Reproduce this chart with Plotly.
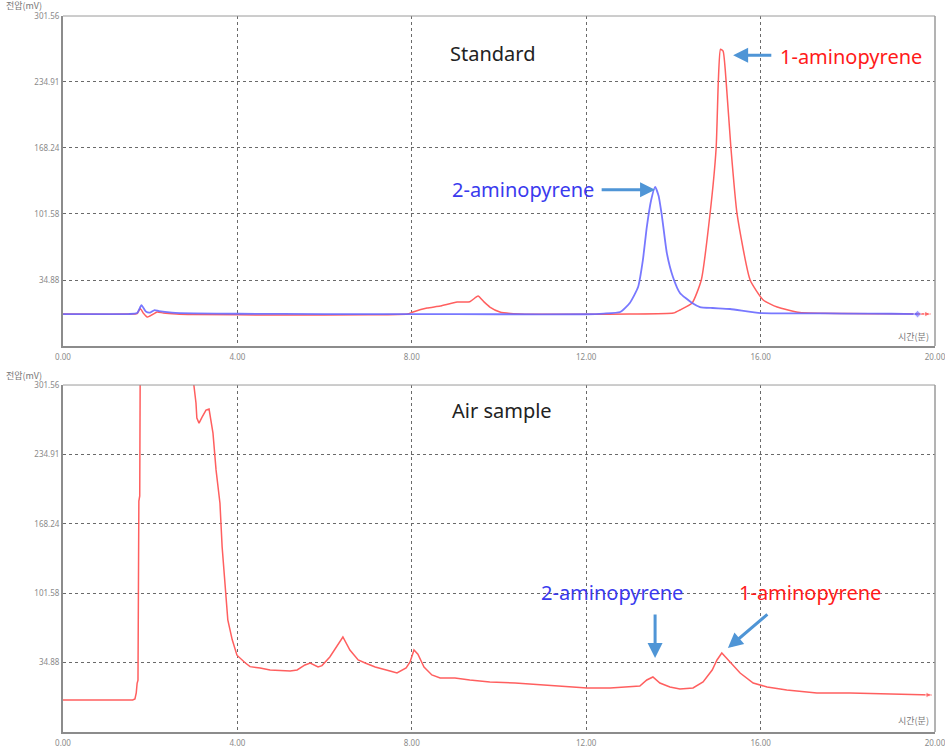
import plotly.graph_objects as go
from plotly.subplots import make_subplots

# ---------------- data (time in min, signal in mV) ----------------
std_blue_t = [0.0, 1.5, 1.7, 1.8, 1.9, 2.0, 2.1, 2.2, 2.5, 3.0, 4.0, 6.0, 8.0, 10.0, 12.0,
              12.4, 12.78, 13.0, 13.19, 13.3, 13.39, 13.49, 13.58, 13.66, 13.74, 13.85,
              13.99, 14.15, 14.43, 14.61, 14.9, 15.3, 16.0, 17.0, 18.0, 19.0, 19.6]
std_blue_v = [0.5, 0.5, 1.5, 9.5, 3.0, 2.0, 4.5, 3.5, 2.0, 1.2, 0.8, 0.5, 0.5, 0.3, 0.3,
              1.0, 2.6, 11.7, 27.8, 55.0, 88.4, 115.7, 129.0, 120.0, 98.5, 62.0,
              37.9, 21.8, 11.7, 7.6, 6.6, 5.6, 1.5, 1.2, 1.0, 0.8, 0.5]

std_red_t = [0.0, 1.5, 1.7, 1.77, 1.85, 1.93, 2.05, 2.16, 2.3, 2.6, 3.0, 5.0, 7.0, 7.9,
             8.03, 8.35, 8.65, 9.04, 9.33, 9.52, 9.65, 9.79, 10.02, 10.48, 12.0, 13.0,
             14.0, 14.15, 14.43, 14.64, 14.84, 14.98, 15.03, 15.08, 15.14, 15.21, 15.32, 15.46,
             15.76, 16.06, 16.38, 16.9, 18.0, 19.0, 19.9]
std_red_v = [0.5, 0.5, 1.0, 6.0, 1.0, -2.5, 0.0, 2.6, 1.5, 0.5, 0.0, -0.5, -0.3, 0.5,
             2.6, 6.6, 8.6, 12.7, 13.0, 18.7, 13.0, 7.6, 2.6, 0.5, 0.2, 0.5,
             1.5, 4.6, 11.7, 34.9, 101.6, 168.0, 235.0, 268.0, 266.0, 235.0, 168.0, 101.6,
             34.9, 14.7, 7.6, 2.0, 1.0, 0.8, 0.5]

air_t = [0.0, 1.6, 1.65, 1.68, 1.70, 1.72, 1.74, 1.76, 1.78, 2.95, 3.0, 3.05, 3.07, 3.12,
         3.19, 3.28, 3.35, 3.39, 3.44, 3.51, 3.60, 3.65, 3.72, 3.78, 3.88, 3.99, 4.17,
         4.29, 4.52, 4.75, 5.21, 5.37, 5.55, 5.67, 5.85, 5.94, 6.12, 6.28, 6.42, 6.58,
         6.77, 6.93, 7.16, 7.50, 7.66, 7.87, 7.96, 8.05, 8.14, 8.28, 8.46, 8.65, 8.99,
         9.33, 9.79, 10.37, 10.94, 12.02, 12.55, 13.0, 13.23, 13.39, 13.53, 13.69,
         13.92, 14.15, 14.45, 14.68, 14.89, 15.0, 15.11, 15.3, 15.53, 15.83, 16.15,
         16.6, 17.29, 18.05, 18.81, 19.59, 19.93]
air_v = [-1.0, -1.0, 0.0, 5.7, 15.0, 18.0, 190.0, 195.0, 420.0, 420.0, 302.0, 284.3, 269.8, 265.0,
         270.8, 277.5, 278.5, 269.8, 255.4, 220.0, 188.0, 146.0, 108.0, 76.0, 57.0, 42.0, 35.0,
         31.0, 29.7, 27.8, 26.8, 27.8, 32.6, 34.5, 30.7, 32.0, 40.3, 49.9, 59.5, 47.0,
         37.4, 34.5, 30.7, 26.8, 24.9, 29.7, 35.5, 47.0, 43.0, 30.7, 23.0, 20.1, 20.0,
         18.2, 16.3, 15.3, 13.4, 10.5, 10.5, 11.4, 12.4, 18.2, 21.1, 15.3,
         11.4, 9.5, 10.5, 16.3, 27.8, 37.4, 44.1, 35.5, 24.9, 15.3, 11.4,
         8.6, 5.7, 5.7, 4.7, 3.8, 3.8]

x_tick_vals = [0, 4, 8, 12, 16, 20]
x_tick_text = ["0.00", "4.00", "8.00", "12.00", "16.00", "20.00"]
y_tick_vals = [34.88, 101.58, 168.24, 234.91, 301.56]
y_tick_text = ["34.88", "101.58", "168.24", "234.91", "301.56"]
y_range = [-31.78, 301.56]
x_range = [0, 20]

RED = "rgb(255,95,95)"
BLUE = "rgba(105,105,255,0.9)"
ARROW = "#4f95d6"

fig = make_subplots(rows=2, cols=1, vertical_spacing=0.0)


def end_marker(n, size):
    return [0] * (n - 1) + [size]


fig.add_trace(go.Scatter(x=std_red_t, y=std_red_v, mode="lines+markers",
                         line=dict(color=RED, width=1.5, shape="spline", smoothing=0.5),
                         marker=dict(symbol="arrow-right", color=RED, size=end_marker(len(std_red_t), 6)),
                         showlegend=False, hoverinfo="skip"), row=1, col=1)
fig.add_trace(go.Scatter(x=std_blue_t, y=std_blue_v, mode="lines+markers",
                         line=dict(color=BLUE, width=1.8, shape="spline", smoothing=0.5),
                         marker=dict(symbol="diamond", color=BLUE, size=end_marker(len(std_blue_t), 6)),
                         showlegend=False, hoverinfo="skip"), row=1, col=1)
fig.add_trace(go.Scatter(x=air_t, y=air_v, mode="lines+markers",
                         line=dict(color=RED, width=1.5),
                         marker=dict(symbol="arrow-right", color=RED, size=end_marker(len(air_t), 6)),
                         showlegend=False, hoverinfo="skip"), row=2, col=1)

axis_common = dict(showgrid=True, griddash="dot", gridcolor="#6a6a6a", gridwidth=1,
                   zeroline=False, showline=True, linecolor="#8c8c8c", linewidth=2,
                   ticks="", automargin=False, ticklabeloverflow="allow",
                   tickfont=dict(family="Noto Sans", size=8, color="#8a8a8a"))

for r in (1, 2):
    fig.update_xaxes(range=x_range, tickvals=x_tick_vals, ticktext=x_tick_text,
                     row=r, col=1, ticklabelstandoff=2, **axis_common)
    fig.update_yaxes(range=y_range, tickvals=y_tick_vals, ticktext=y_tick_text,
                     row=r, col=1, **axis_common)

fig.update_layout(
    width=945, height=748,
    margin=dict(l=63, r=10, t=16, b=16, autoexpand=False),
    plot_bgcolor="white", paper_bgcolor="white",
    xaxis=dict(domain=[0, 1]), xaxis2=dict(domain=[0, 1]),
    yaxis=dict(domain=[0.5391, 1.0]), yaxis2=dict(domain=[0.0, 0.4846]),
)

# thin frame on top/right
for xref, yref in (("x domain", "y domain"), ("x2 domain", "y2 domain")):
    fig.add_shape(type="line", xref=xref, yref=yref, x0=0, x1=1, y0=1, y1=1,
                  line=dict(color="#9a9a9a", width=1))
    fig.add_shape(type="line", xref=xref, yref=yref, x0=1, x1=1, y0=0, y1=1,
                  line=dict(color="#9a9a9a", width=1.5))

TXT = dict(family="Noto Sans", size=20)
ann = []
# top panel texts
ann.append(dict(x=9.84, y=264, xref="x", yref="y", text="Standard", showarrow=False,
                font=dict(color="#222222", **TXT)))
ann.append(dict(x=18.07, y=261, xref="x", yref="y", text="1-aminopyrene", showarrow=False,
                font=dict(color="#ff1a1a", **TXT)))
ann.append(dict(x=10.55, y=126, xref="x", yref="y", text="2-aminopyrene", showarrow=False,
                font=dict(color="#3a3aee", **TXT)))
# top arrows
ann.append(dict(x=15.37, y=262, ax=16.28, ay=262, xref="x", yref="y", axref="x", ayref="y",
                text="", showarrow=True, arrowhead=2, arrowsize=1, arrowwidth=3, arrowcolor=ARROW))
ann.append(dict(x=13.58, y=126, ax=12.32, ay=126, xref="x", yref="y", axref="x", ayref="y",
                text="", showarrow=True, arrowhead=2, arrowsize=1, arrowwidth=3, arrowcolor=ARROW))
# bottom panel texts
ann.append(dict(x=10.07, y=277.5, xref="x2", yref="y2", text="Air sample", showarrow=False,
                font=dict(color="#222222", **TXT)))
ann.append(dict(x=12.59, y=101.8, xref="x2", yref="y2", text="2-aminopyrene", showarrow=False,
                font=dict(color="#3a3aee", **TXT)))
ann.append(dict(x=17.13, y=102.7, xref="x2", yref="y2", text="1-aminopyrene", showarrow=False,
                font=dict(color="#ff1a1a", **TXT)))
# bottom arrows
ann.append(dict(x=13.58, y=39.3, ax=13.58, ay=82.5, xref="x2", yref="y2", axref="x2", ayref="y2",
                text="", showarrow=True, arrowhead=2, arrowsize=1, arrowwidth=3, arrowcolor=ARROW))
ann.append(dict(x=15.25, y=48.9, ax=16.19, ay=82.5, xref="x2", yref="y2", axref="x2", ayref="y2",
                text="", showarrow=True, arrowhead=2, arrowsize=1, arrowwidth=3, arrowcolor=ARROW))
# axis captions
KF = dict(family="Noto Sans CJK KR", size=9, color="#777777")
ann.append(dict(x=-0.067, y=1.0145, xref="paper", yref="paper", text="전압(mV)", showarrow=False,
                xanchor="left", yanchor="middle", borderpad=0, font=KF))
ann.append(dict(x=-0.067, y=0.4985, xref="paper", yref="paper", text="전압(mV)", showarrow=False,
                xanchor="left", yanchor="middle", borderpad=0, font=KF))
KF2 = dict(family="Noto Sans CJK KR", size=9, color="#777777")
ann.append(dict(x=0.995, y=0.5517, xref="paper", yref="paper", text="시간(분)", showarrow=False,
                xanchor="right", yanchor="middle", font=KF2))
ann.append(dict(x=0.995, y=0.0154, xref="paper", yref="paper", text="시간(분)", showarrow=False,
                xanchor="right", yanchor="middle", font=KF2))
fig.update_layout(annotations=ann)

fig.write_html("out.html", config={"displayModeBar": False},
               post_script="document.body.style.margin='0';document.body.style.overflow='hidden';")
